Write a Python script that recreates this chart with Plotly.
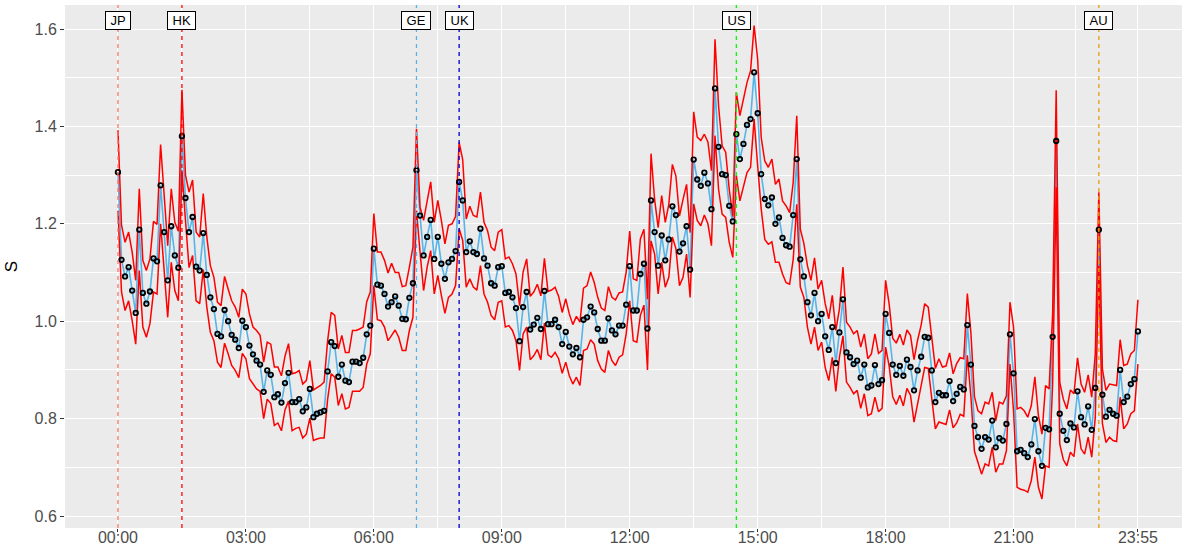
import plotly.graph_objects as go

# 5-minute intraday grid (minutes after 00:00)
minutes = list(range(0, 1440, 5))

s_values = [
    1.306, 1.126, 1.092, 1.111, 1.063, 1.017, 1.188, 1.058, 1.036, 1.061, 1.129, 1.123,
    1.279, 1.183, 1.084, 1.195, 1.135, 1.110, 1.380, 1.253, 1.183, 1.214, 1.112, 1.104,
    1.181, 1.095, 1.049, 1.025, 0.974, 0.969, 1.023, 1.000, 0.972, 0.962, 0.945, 1.001,
    0.988, 0.950, 0.932, 0.919, 0.911, 0.855, 0.899, 0.890, 0.844, 0.850, 0.833, 0.873,
    0.894, 0.834, 0.834, 0.840, 0.815, 0.823, 0.861, 0.803, 0.810, 0.813, 0.816, 0.897,
    0.957, 0.949, 0.886, 0.911, 0.878, 0.875, 0.917, 0.917, 0.914, 0.925, 0.973, 0.991,
    1.149, 1.075, 1.073, 1.056, 1.030, 1.039, 1.051, 1.032, 1.005, 1.004, 1.048, 1.078,
    1.310, 1.217, 1.135, 1.173, 1.208, 1.128, 1.173, 1.118, 1.087, 1.121, 1.128, 1.144,
    1.286, 1.248, 1.142, 1.164, 1.142, 1.138, 1.190, 1.129, 1.114, 1.078, 1.073, 1.111,
    1.113, 1.058, 1.060, 1.049, 1.027, 0.959, 1.029, 1.060, 0.983, 0.993, 1.007, 0.984,
    1.062, 0.994, 0.994, 1.003, 0.988, 0.953, 0.978, 0.948, 0.932, 0.945, 0.926, 1.003,
    1.008, 1.030, 1.018, 0.984, 0.960, 0.960, 1.006, 0.981, 0.973, 0.991, 0.991, 1.034,
    1.113, 1.022, 1.022, 1.097, 1.118, 0.985, 1.248, 1.183, 1.114, 1.176, 1.125, 1.168,
    1.236, 1.218, 1.143, 1.160, 1.195, 1.106, 1.332, 1.291, 1.278, 1.305, 1.283, 1.230,
    1.478, 1.358, 1.302, 1.300, 1.237, 1.205, 1.384, 1.333, 1.364, 1.403, 1.415, 1.511,
    1.427, 1.302, 1.251, 1.238, 1.254, 1.200, 1.213, 1.171, 1.156, 1.153, 1.218, 1.333,
    1.127, 1.092, 1.039, 1.012, 1.058, 1.000, 1.015, 0.969, 0.941, 0.988, 0.914, 0.977,
    1.045, 0.936, 0.926, 0.912, 0.919, 0.884, 0.911, 0.864, 0.868, 0.910, 0.871, 0.879,
    1.015, 0.976, 0.911, 0.890, 0.908, 0.888, 0.921, 0.906, 0.858, 0.899, 0.927, 0.968,
    0.966, 0.899, 0.834, 0.853, 0.848, 0.848, 0.877, 0.836, 0.851, 0.865, 0.860, 0.992,
    0.911, 0.785, 0.762, 0.738, 0.762, 0.757, 0.796, 0.741, 0.760, 0.755, 0.789, 0.973,
    0.893, 0.733, 0.736, 0.729, 0.721, 0.747, 0.799, 0.733, 0.703, 0.781, 0.778, 0.968,
    1.370, 0.810, 0.775, 0.756, 0.790, 0.782, 0.856, 0.803, 0.788, 0.825, 0.777, 0.863,
    1.188, 0.849, 0.804, 0.818, 0.810, 0.806, 0.900, 0.834, 0.845, 0.871, 0.881, 0.979,
]

upper_band = [
    1.392, 1.197, 1.162, 1.183, 1.142, 1.084, 1.272, 1.125, 1.104, 1.128, 1.205, 1.199,
    1.363, 1.251, 1.155, 1.272, 1.203, 1.185, 1.475, 1.300, 1.265, 1.290, 1.183, 1.173,
    1.262, 1.173, 1.114, 1.090, 1.039, 1.032, 1.092, 1.066, 1.042, 1.029, 1.008, 1.066,
    1.056, 1.015, 0.988, 0.981, 0.971, 0.916, 0.957, 0.953, 0.906, 0.906, 0.888, 0.928,
    0.954, 0.892, 0.894, 0.899, 0.871, 0.878, 0.919, 0.859, 0.864, 0.868, 0.875, 0.960,
    1.018, 1.012, 0.943, 0.971, 0.936, 0.936, 0.981, 0.981, 0.984, 0.988, 1.040, 1.060,
    1.221, 1.142, 1.142, 1.125, 1.099, 1.119, 1.100, 1.100, 1.071, 1.073, 1.111, 1.152,
    1.395, 1.234, 1.207, 1.248, 1.286, 1.203, 1.248, 1.207, 1.159, 1.197, 1.200, 1.215,
    1.367, 1.332, 1.210, 1.236, 1.217, 1.214, 1.265, 1.203, 1.186, 1.152, 1.145, 1.183,
    1.188, 1.128, 1.132, 1.118, 1.097, 1.032, 1.101, 1.128, 1.051, 1.060, 1.076, 1.052,
    1.129, 1.061, 1.064, 1.070, 1.051, 1.018, 1.046, 1.015, 0.993, 1.010, 0.998, 1.068,
    1.073, 1.101, 1.080, 1.049, 1.027, 1.022, 1.071, 1.049, 1.044, 1.058, 1.060, 1.101,
    1.185, 1.087, 1.084, 1.169, 1.189, 1.045, 1.344, 1.250, 1.192, 1.258, 1.203, 1.240,
    1.322, 1.298, 1.216, 1.250, 1.281, 1.182, 1.430, 1.378, 1.371, 1.384, 1.368, 1.309,
    1.579, 1.442, 1.360, 1.347, 1.271, 1.215, 1.470, 1.422, 1.453, 1.490, 1.514, 1.607,
    1.538, 1.377, 1.329, 1.316, 1.333, 1.281, 1.292, 1.247, 1.237, 1.223, 1.285, 1.422,
    1.189, 1.160, 1.114, 1.084, 1.130, 1.066, 1.084, 1.036, 1.005, 1.053, 0.981, 1.025,
    1.111, 0.998, 0.988, 0.974, 0.981, 0.947, 0.974, 0.923, 0.933, 0.974, 0.934, 0.940,
    1.084, 1.035, 0.965, 0.955, 0.973, 0.951, 0.982, 0.971, 0.921, 0.961, 0.992, 1.036,
    1.029, 0.961, 0.903, 0.923, 0.906, 0.908, 0.935, 0.892, 0.913, 0.925, 0.923, 1.057,
    0.976, 0.845, 0.816, 0.810, 0.834, 0.830, 0.854, 0.796, 0.834, 0.830, 0.847, 1.039,
    0.988, 0.820, 0.823, 0.816, 0.803, 0.827, 0.886, 0.806, 0.768, 0.868, 0.861, 1.015,
    1.474, 0.875, 0.840, 0.820, 0.859, 0.851, 0.925, 0.871, 0.854, 0.890, 0.844, 0.933,
    1.265, 0.902, 0.858, 0.871, 0.870, 0.868, 0.962, 0.909, 0.912, 0.933, 0.940, 1.044,
]

lower_band = [
    1.227, 1.060, 1.022, 1.042, 1.001, 0.953, 1.104, 0.988, 0.967, 0.995, 1.060, 1.056,
    1.200, 1.104, 1.008, 1.121, 1.063, 1.042, 1.310, 1.207, 1.110, 1.135, 1.042, 1.036,
    1.106, 1.029, 0.977, 0.960, 0.916, 0.905, 0.955, 0.933, 0.909, 0.899, 0.884, 0.934,
    0.923, 0.882, 0.871, 0.861, 0.856, 0.800, 0.840, 0.831, 0.786, 0.791, 0.775, 0.818,
    0.836, 0.775, 0.780, 0.782, 0.760, 0.768, 0.801, 0.755, 0.758, 0.760, 0.760, 0.840,
    0.892, 0.885, 0.827, 0.851, 0.820, 0.823, 0.856, 0.856, 0.856, 0.864, 0.912, 0.933,
    1.073, 1.003, 1.001, 0.988, 0.960, 0.971, 0.982, 0.967, 0.940, 0.940, 0.981, 1.008,
    1.227, 1.142, 1.063, 1.111, 1.145, 1.056, 1.094, 1.053, 1.016, 1.049, 1.056, 1.073,
    1.190, 1.166, 1.070, 1.087, 1.070, 1.064, 1.114, 1.056, 1.039, 1.012, 1.003, 1.039,
    1.042, 0.988, 0.991, 0.981, 0.960, 0.899, 0.974, 0.988, 0.921, 0.929, 0.942, 0.921,
    0.996, 0.931, 0.926, 0.936, 0.923, 0.893, 0.916, 0.888, 0.871, 0.885, 0.868, 0.940,
    0.943, 0.962, 0.953, 0.919, 0.902, 0.895, 0.940, 0.919, 0.909, 0.926, 0.931, 0.974,
    1.042, 0.960, 0.957, 1.012, 1.033, 0.900, 1.165, 1.138, 1.056, 1.121, 1.070, 1.090,
    1.173, 1.149, 1.073, 1.090, 1.138, 1.049, 1.241, 1.207, 1.196, 1.218, 1.200, 1.155,
    1.381, 1.271, 1.220, 1.213, 1.162, 1.131, 1.299, 1.247, 1.278, 1.305, 1.316, 1.415,
    1.319, 1.230, 1.168, 1.158, 1.163, 1.121, 1.121, 1.097, 1.079, 1.076, 1.127, 1.240,
    1.070, 1.049, 0.988, 0.953, 0.988, 0.940, 0.957, 0.905, 0.878, 0.926, 0.856, 0.926,
    0.970, 0.875, 0.864, 0.851, 0.858, 0.821, 0.851, 0.806, 0.810, 0.844, 0.814, 0.821,
    0.947, 0.908, 0.845, 0.829, 0.848, 0.826, 0.862, 0.848, 0.793, 0.831, 0.868, 0.905,
    0.903, 0.838, 0.779, 0.793, 0.790, 0.788, 0.818, 0.781, 0.791, 0.809, 0.805, 0.930,
    0.845, 0.733, 0.710, 0.686, 0.707, 0.703, 0.741, 0.690, 0.707, 0.707, 0.734, 0.912,
    0.816, 0.659, 0.655, 0.653, 0.649, 0.673, 0.721, 0.659, 0.635, 0.703, 0.700, 0.871,
    1.275, 0.748, 0.716, 0.703, 0.731, 0.722, 0.789, 0.738, 0.727, 0.762, 0.721, 0.803,
    1.114, 0.790, 0.751, 0.762, 0.755, 0.753, 0.844, 0.779, 0.789, 0.810, 0.816, 0.912,
]

tick_minutes = [0, 180, 360, 540, 720, 900, 1080, 1260, 1435]
tick_labels = ["00:00", "03:00", "06:00", "09:00", "12:00", "15:00", "18:00", "21:00", "23:55"]
minor_x = [90, 270, 450, 630, 810, 990, 1170, 1347.5]

y_ticks = [0.6, 0.8, 1.0, 1.2, 1.4, 1.6]
y_labels = ["0.6", "0.8", "1.0", "1.2", "1.4", "1.6"]
minor_y = [0.7, 0.9, 1.1, 1.3, 1.5]

markets = ["JP", "HK", "GE", "UK", "US", "AU"]
market_minutes = [0, 90, 420, 480, 870, 1380]
market_colors = ["#F8766D", "#FF0000", "#56B4E9", "#0000CD", "#00FF00", "#E69F00"]

fig = go.Figure()
fig.add_trace(go.Scatter(x=minutes, y=s_values, mode="lines",
                         line=dict(color="#56B4E9", width=1.6), hoverinfo="skip"))
fig.add_trace(go.Scatter(x=minutes, y=upper_band, mode="lines",
                         line=dict(color="#FF0000", width=1.5)))
fig.add_trace(go.Scatter(x=minutes, y=lower_band, mode="lines",
                         line=dict(color="#FF0000", width=1.5)))
fig.add_trace(go.Scatter(x=minutes, y=s_values, mode="markers",
                         marker=dict(symbol="circle-open", size=4.5, color="black",
                                     line=dict(color="black", width=1.8))))

for name, m, col in zip(markets, market_minutes, market_colors):
    fig.add_shape(type="line", xref="x", yref="paper", x0=m, x1=m, y0=0, y1=1,
                  line=dict(color=col, width=1.3, dash="4px,4px"), layer="above")
    fig.add_annotation(x=m, y=1.618, xref="x", yref="y", text="\u00a0" + name + "\u00a0",
                       showarrow=False,
                       font=dict(family="Liberation Sans, Arial", size=13, color="black"),
                       bgcolor="white", bordercolor="black", borderwidth=1, borderpad=1)

fig.update_layout(
    width=1188, height=546,
    margin=dict(l=65, r=6, t=5, b=18),
    paper_bgcolor="white", plot_bgcolor="#EBEBEB",
    showlegend=False,
    font=dict(family="Liberation Sans, Arial", size=16, color="#4D4D4D"),
)
fig.update_xaxes(
    range=[-74.5, 1497], tickvals=tick_minutes, ticktext=tick_labels,
    showgrid=True, gridcolor="white", gridwidth=1.1, zeroline=False, showline=False,
    ticks="outside", ticklen=3, tickcolor="#333333", tickwidth=1,
    tickfont=dict(size=16, color="#4D4D4D"), ticklabelstandoff=-8,
    minor=dict(tickvals=minor_x, showgrid=True, gridcolor="white", gridwidth=0.5, ticks=""),
    automargin=False,
)
fig.update_yaxes(
    range=[0.5754, 1.6493], tickvals=y_ticks, ticktext=y_labels,
    showgrid=True, gridcolor="white", gridwidth=1.1, zeroline=False, showline=False,
    ticks="outside", ticklen=4, tickcolor="#333333", tickwidth=1,
    tickfont=dict(size=16, color="#4D4D4D"),
    minor=dict(tickvals=minor_y, showgrid=True, gridcolor="white", gridwidth=0.5, ticks=""),
    title=dict(text="S", font=dict(size=17, color="black"), standoff=12),
    automargin=False,
)

fig.write_html("out.html", config={"displayModeBar": False},
               post_script="document.body.style.margin='0';")
